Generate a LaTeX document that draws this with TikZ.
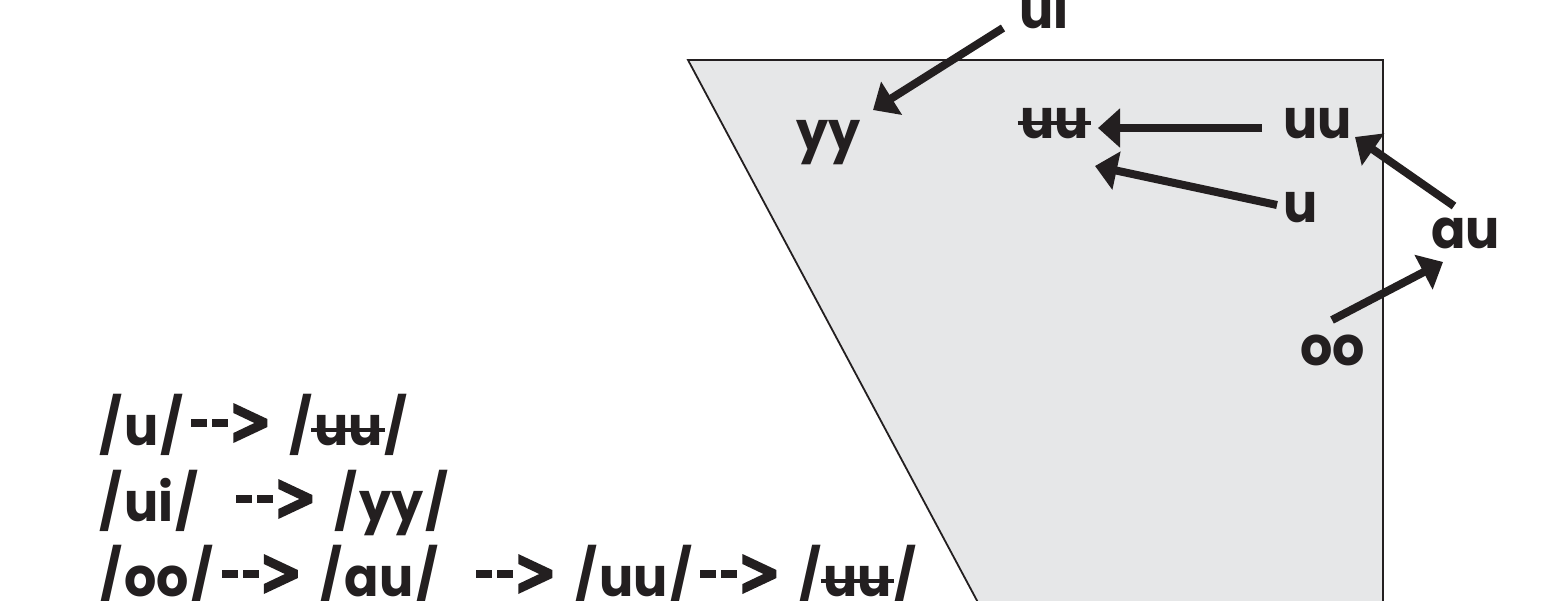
\documentclass[tikz,border=0pt]{standalone}
\usepackage{fontspec}
\setmainfont{Poppins}[FakeStretch=0.94]
\usetikzlibrary{arrows.meta}
\definecolor{ink}{HTML}{231F20}
\definecolor{panel}{HTML}{E6E7E8}
\newcommand\bu{\sbox0{u}\rlap{\hspace*{-0.05em}\rule[0.24em]{\dimexpr\wd0+0.1em\relax}{0.07em}}u}
\newcommand\sls{\kern2pt/\kern2pt}
\newcommand\dsh{\rule[18pt]{16pt}{8pt}}
\newcommand\chev{\tikz[baseline=0pt]\fill[ink] (0pt,42pt)--(34pt,26pt)--(34pt,18pt)--(0pt,2pt)--(0pt,12pt)--(21pt,22pt)--(0pt,32pt)--cycle;}
\newcommand\ar{\hspace{6pt}\dsh\hspace{5pt}\dsh\hspace{5pt}\chev\hspace{9pt}}
\begin{document}
\begin{tikzpicture}[x=1pt,y=-1pt,
  lbl/.style={anchor=base west, inner sep=0pt, text=ink, font=\bfseries\fontsize{54}{54}\selectfont},
  arr/.style={draw=ink, line width=8pt, -{Triangle[length=22pt,width=38pt]}}]
\useasboundingbox (0,0) rectangle (1557,600);
\draw[fill=panel, draw=ink, line width=1.8pt] (688,60) -- (1383,60) -- (1383,610) -- (982,610) -- cycle;
\node[lbl] (ui) at (1019,28) {ui};
\node[lbl] (yy) at (796,150) {yy};
\node[lbl] (bb) at (1020,138) {\bu\bu};
\node[lbl] (uu) at (1283,138) {uu};
\node[lbl] (u) at (1283,222) {u};
\node[lbl] (au) at (1431,248) {au};
\node[lbl] (oo) at (1300,365) {oo};
\draw[arr] ([shift={(-16,0)}]ui.base west) -- ([shift={(77,-40)}]yy.base west);
\draw[arr] ([shift={(-21,-10)}]uu.base west) -- ([shift={(78,-10)}]bb.base west);
\draw[arr] ([shift={(-6,-17)}]u.base west) -- ([shift={(75,28)}]bb.base west);
\draw[arr] ([shift={(23,-42)}]au.base west) -- ([shift={(72,-1)}]uu.base west);
\draw[arr] ([shift={(32,-45)}]oo.base west) -- ([shift={(12,14)}]au.base west);
\node[lbl] (l1) at (97,445) {\sls u\sls\ar{} \sls\bu\bu\sls};
\node[lbl] (l2) at (97,521) {\sls ui\sls\hspace{30pt}\ar{} \sls yy\sls};
\node[lbl] (l3) at (97,596) {\sls oo\sls\ar{} \sls au\sls\hspace{30pt}\ar{} \sls uu\sls\ar{} \sls\bu\bu\sls};
\end{tikzpicture}
\end{document}
